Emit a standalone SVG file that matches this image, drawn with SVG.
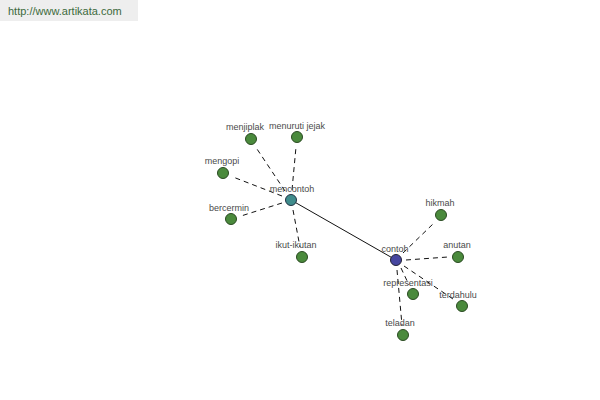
<svg xmlns="http://www.w3.org/2000/svg" width="600" height="400" viewBox="0 0 600 400">
<style>
.lbl{font-family:"Liberation Sans",Arial,sans-serif;font-size:9px;fill:#4a4a4a;text-anchor:middle}
.leaf{fill:#4a8a3c;stroke:#2a4a22;stroke-width:1}
.dash{stroke:#111;stroke-width:1;stroke-dasharray:5,4;fill:none}
</style>
<rect x="0" y="0" width="600" height="400" fill="#fff"/>
<rect x="0" y="0" width="138" height="21" fill="#eeeeee"/>
<text x="8" y="15" font-family="Liberation Sans,Arial,sans-serif" font-size="11" fill="#3c6a3c">http://www.artikata.com</text>
<g id="connectors">
<line x1="291" y1="200" x2="396" y2="260" stroke="#111" stroke-width="1"/>
<line class="dash" x1="285" y1="191" x2="257" y2="149"/>
<line class="dash" x1="292" y1="190" x2="296" y2="147"/>
<line class="dash" x1="282" y1="196" x2="233" y2="177"/>
<line class="dash" x1="282" y1="203" x2="241" y2="216"/>
<line class="dash" x1="293" y1="210" x2="300" y2="247"/>
<line class="dash" x1="403" y1="253" x2="434" y2="223"/>
<line class="dash" x1="406" y1="260" x2="448" y2="257"/>
<line class="dash" x1="401" y1="268" x2="409" y2="285"/>
<line class="dash" x1="404" y1="266" x2="453" y2="299"/>
<line class="dash" x1="397" y1="270" x2="402" y2="325"/>
</g>
<g id="n-mencontoh"><circle cx="291" cy="200" r="5.5" fill="#3f8c8c" stroke="#234" stroke-width="1"/><text class="lbl" x="292" y="192">mencontoh</text></g>
<g id="n-contoh"><circle cx="396" cy="260" r="5.5" fill="#4646a0" stroke="#223" stroke-width="1"/><text class="lbl" x="395" y="252">contoh</text></g>
<g id="n-menjiplak"><circle class="leaf" cx="251" cy="139" r="5.5"/><text class="lbl" x="245" y="130">menjiplak</text></g>
<g id="n-menuruti-jejak"><circle class="leaf" cx="297" cy="137" r="5.5"/><text class="lbl" x="297" y="129">menuruti jejak</text></g>
<g id="n-mengopi"><circle class="leaf" cx="223" cy="173" r="5.5"/><text class="lbl" x="222" y="164">mengopi</text></g>
<g id="n-bercermin"><circle class="leaf" cx="231" cy="219" r="5.5"/><text class="lbl" x="229" y="211">bercermin</text></g>
<g id="n-ikut-ikutan"><circle class="leaf" cx="302" cy="257" r="5.5"/><text class="lbl" x="296" y="248">ikut-ikutan</text></g>
<g id="n-hikmah"><circle class="leaf" cx="441" cy="215" r="5.5"/><text class="lbl" x="440" y="206">hikmah</text></g>
<g id="n-anutan"><circle class="leaf" cx="458" cy="257" r="5.5"/><text class="lbl" x="457" y="248">anutan</text></g>
<g id="n-representasi"><circle class="leaf" cx="413" cy="294" r="5.5"/><text class="lbl" x="408" y="286">representasi</text></g>
<g id="n-terdahulu"><circle class="leaf" cx="462" cy="306" r="5.5"/><text class="lbl" x="458" y="298">terdahulu</text></g>
<g id="n-teladan"><circle class="leaf" cx="403" cy="335" r="5.5"/><text class="lbl" x="400" y="326">teladan</text></g>
</svg>
